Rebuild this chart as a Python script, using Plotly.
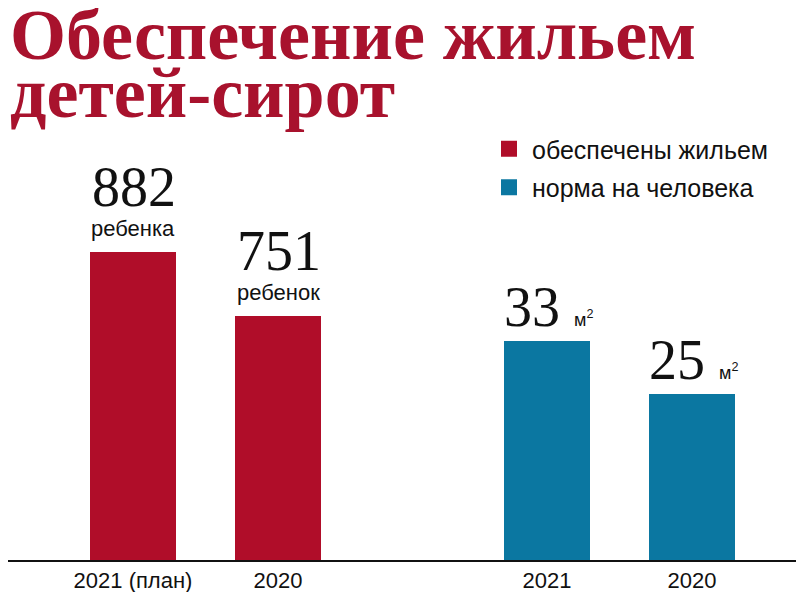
import plotly.graph_objects as go

# data
housed_labels = ["2021 (план)", "2020"]
housed_values = [882, 751]
housed_units = ["ребенка", "ребенок"]

norm_labels = ["2021", "2020"]
norm_values = [33, 25]
norm_unit = "м<sup>2</sup>"

series_names = ["обеспечены жильем", "норма на человека"]
title_lines = ["Обеспечение жильем", "детей-сирот"]

# styles / layout (page body adds an 8px offset, so figure px = screen px - 8)
RED = "#b00d29"
BLUE = "#0b77a1"
TITLE_RED = "#a8122d"
W, H = 804, 592
BOTTOM = 40
PLOT_H = H - BOTTOM
housed_x = [133, 278]   # bar centres in screen-pixel x units
norm_x = [547, 692]
BAR_W = 86
SERIF = "Liberation Serif, DejaVu Serif, serif"
SANS = "Liberation Sans, Arial, sans-serif"

fig = go.Figure()

fig.add_trace(go.Bar(
    x=housed_x, y=housed_values, width=BAR_W,
    marker=dict(color=RED, line=dict(width=0)),
    showlegend=False, yaxis="y", hoverinfo="y",
))
fig.add_trace(go.Bar(
    x=norm_x, y=norm_values, width=BAR_W,
    marker=dict(color=BLUE, line=dict(width=0)),
    showlegend=False, yaxis="y2", hoverinfo="y",
))

# legend entries
for name, col in zip(series_names, [RED, BLUE]):
    fig.add_trace(go.Scatter(
        x=[None], y=[None], mode="markers", name=name, legendgroup=name,
        marker=dict(symbol="square", size=18, color=col),
    ))

# value labels
for x, v, u in zip(housed_x, housed_values, housed_units):
    fig.add_annotation(x=x, y=v, yref="y", text=str(v), showarrow=False,
                       yanchor="middle", yshift=65, xshift=1,
                       font=dict(family=SERIF, size=56, color="#111"))
    fig.add_annotation(x=x, y=v, yref="y", text=u, showarrow=False,
                       yanchor="middle", yshift=24,
                       font=dict(family=SANS, size=22, color="#111"))

for x, v in zip(norm_x, norm_values):
    fig.add_annotation(
        x=x, y=v, yref="y2",
        text=f"{v} <span style='font-family:{SANS};font-size:18px'>{norm_unit}</span>",
        showarrow=False, yanchor="middle", yshift=34, xshift=1,
        font=dict(family=SERIF, size=56, color="#111"))

# title
for i, line in enumerate(title_lines):
    fig.add_annotation(
        xref="paper", yref="paper", x=0, y=1 - (27 + 58 * i) / PLOT_H,
        xanchor="left", yanchor="middle", text=f"<b>{line}</b>", showarrow=False,
        font=dict(family=SERIF, size=72, color=TITLE_RED))

fig.update_layout(
    width=W, height=H,
    margin=dict(l=0, r=0, t=0, b=BOTTOM),
    paper_bgcolor="white", plot_bgcolor="white",
    bargap=0,
    xaxis=dict(
        domain=[0, 1], range=[8, W + 8],
        tickvals=housed_x + norm_x, ticktext=housed_labels + norm_labels,
        tickfont=dict(family=SANS, size=22, color="#111"),
        showline=True, linecolor="#111", linewidth=2,
        showgrid=False, zeroline=False, ticks="",
    ),
    yaxis=dict(range=[251.5, 1381.5], visible=False, showgrid=False),
    yaxis2=dict(range=[0, 83.1], overlaying="y", visible=False, showgrid=False),
    legend=dict(
        x=478 / W, y=1 - 118 / PLOT_H, xanchor="left", yanchor="top",
        font=dict(family=SANS, size=25, color="#111"),
        tracegroupgap=3, bgcolor="rgba(0,0,0,0)", itemwidth=36,
    ),
    showlegend=True,
)

fig.write_html("out.html")
